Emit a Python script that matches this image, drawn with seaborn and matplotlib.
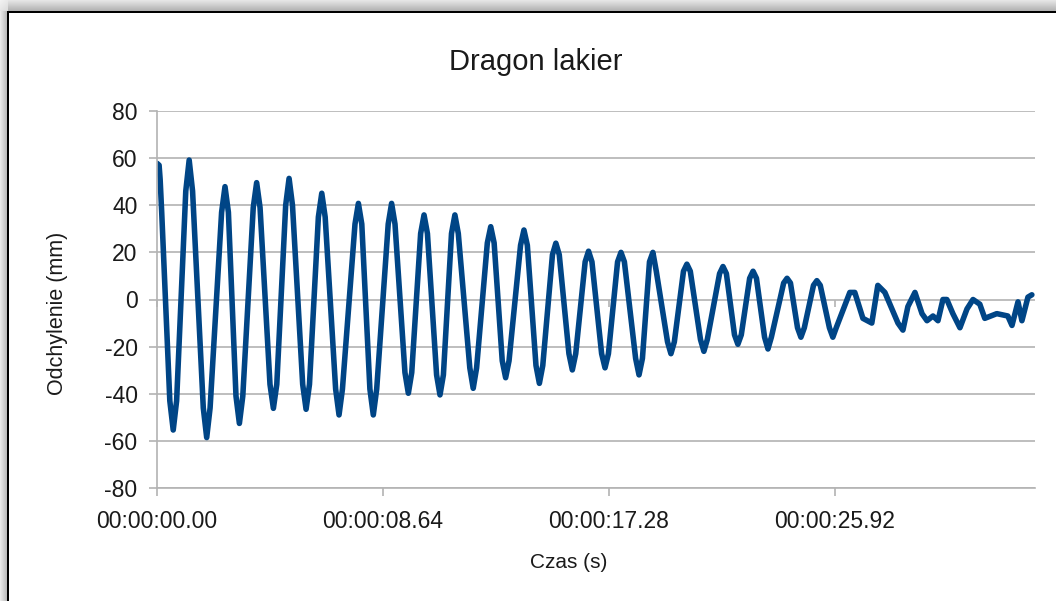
import numpy as np
import pandas as pd
import matplotlib
matplotlib.use("Agg")
import matplotlib.pyplot as plt
import seaborn as sns

# ---- data (time in seconds, deflection in mm) ----
time_s = [0.00, 0.08, 0.12, 0.18, 0.49, 0.62, 0.75,
          1.10, 1.23, 1.36, 1.77, 1.90, 2.03,
          2.47, 2.60, 2.73, 3.02, 3.15, 3.28,
          3.68, 3.81, 3.94, 4.32, 4.45, 4.58,
          4.92, 5.05, 5.18, 5.57, 5.70, 5.83,
          6.17, 6.30, 6.43, 6.83, 6.96, 7.09,
          7.57, 7.70, 7.83, 8.14, 8.27, 8.40,
          8.84, 8.97, 9.10, 9.48, 9.61, 9.74,
          10.08, 10.21, 10.34, 10.69, 10.82, 10.95,
          11.26, 11.39, 11.52, 11.96, 12.09, 12.22,
          12.63, 12.76, 12.89, 13.20, 13.33, 13.46,
          13.90, 14.03, 14.16, 14.49, 14.62, 14.75,
          15.12, 15.25, 15.38, 15.75, 15.88, 16.01,
          16.37, 16.50, 16.63, 17.00, 17.13, 17.26,
          17.61, 17.74, 17.87, 18.30, 18.43, 18.56,
          18.83, 18.96, 19.09, 19.52, 19.65, 19.78,
          20.13, 20.26, 20.39, 20.78, 20.91, 21.04,
          21.51, 21.64, 21.77, 22.08, 22.21, 22.34,
          22.66, 22.79, 22.92, 23.23, 23.36, 23.49,
          23.96, 24.09, 24.22, 24.49, 24.62, 24.75,
          25.10, 25.23, 25.36, 25.71, 25.84, 25.97,
          26.49, 26.68, 26.99, 27.33, 27.56, 27.83, 28.10, 28.33, 28.52, 28.71,
          28.98, 29.25, 29.44, 29.67, 29.86, 30.05, 30.20, 30.43, 30.70, 30.97,
          31.20, 31.46, 31.65, 32.11, 32.53, 32.69, 32.92, 33.07, 33.30, 33.45]
deflection_mm = [57.8, 57.0, 51.0, 37.0, -43.0, -55.4, -43.0,
                 46.0, 59.2, 46.0, -46.0, -58.6, -46.0,
                 37.0, 47.9, 37.0, -41.0, -52.6, -41.0,
                 39.0, 49.6, 39.0, -36.0, -46.2, -36.0,
                 40.0, 51.4, 40.0, -36.0, -46.6, -36.0,
                 35.0, 45.1, 35.0, -38.0, -49.0, -38.0,
                 32.0, 40.8, 32.0, -38.0, -49.0, -38.0,
                 32.0, 40.8, 32.0, -31.0, -39.8, -31.0,
                 28.0, 35.9, 28.0, -32.0, -40.5, -32.0,
                 28.0, 35.9, 28.0, -29.0, -37.7, -29.0,
                 24.0, 30.9, 24.0, -26.0, -33.2, -26.0,
                 23.0, 29.5, 23.0, -28.0, -35.6, -28.0,
                 19.0, 23.9, 19.0, -23.0, -29.9, -23.0,
                 16.0, 20.5, 16.0, -23.0, -29.0, -23.0,
                 16.0, 20.0, 16.0, -25.0, -32.0, -25.0,
                 16.0, 20.0, 12.0, -18.0, -23.0, -18.0,
                 12.0, 15.0, 12.0, -17.0, -22.0, -17.0,
                 11.0, 14.0, 11.0, -15.0, -19.0, -15.0,
                 9.0, 12.0, 9.0, -16.0, -21.0, -16.0,
                 7.0, 9.0, 7.0, -12.0, -16.0, -12.0,
                 6.0, 8.0, 6.0, -12.0, -16.0, -12.0,
                 3.0, 3.0, -8.0, -10.0, 6.0, 3.0, -4.0, -10.0, -13.0, -3.0,
                 3.0, -6.0, -9.0, -7.0, -9.0, 0.0, 0.0, -6.0, -12.0, -4.0,
                 0.0, -2.0, -8.0, -6.0, -7.0, -11.0, -1.0, -9.0, 1.0, 2.0]

x_ticks = [0.0, 8.64, 17.28, 25.92]
x_tick_labels = ["00:00:00.00", "00:00:08.64", "00:00:17.28", "00:00:25.92"]
y_ticks = [-80, -60, -40, -20, 0, 20, 40, 60, 80]

title = "Dragon lakier"
x_label = "Czas (s)"
y_label = "Odchylenie (mm)"

df = pd.DataFrame({"t": time_s, "y": deflection_mm})

sns.set_theme(style="white")
plt.rcParams["font.family"] = ["Liberation Sans", "DejaVu Sans"]
plt.rcParams["axes.unicode_minus"] = False

W, H = 1056, 601
fig = plt.figure(figsize=(W / 100, H / 100), dpi=100)
fig.patch.set_facecolor("white")

# window frame with shadow (decoration)
img = np.ones((H, W, 3))
for i in range(8):
    g = 0.92 - 0.03 * i
    img[11:, i, :] = g
for j in range(11):
    g = 0.90 - 0.02 * j
    img[j, 8:, :] = g
for i in range(8):
    for j in range(11):
        img[j, i, :] = min(0.97, 0.95 - 0.005 * (i + j))
img[11:13, 7:, :] = 0.0
img[11:, 7:9, :] = 0.0
fig.figimage(img, xo=0, yo=0, origin="upper", zorder=-1)

L, R, T, B = 157, 1035, 111, 488
ax = fig.add_axes([L / W, 1 - B / H, (R - L) / W, (B - T) / H])
ax.set_facecolor("none")

sns.lineplot(data=df, x="t", y="y", ax=ax, color="#004586", linewidth=4.0,
             estimator=None, sort=False)
for ln in ax.lines:
    ln.set_solid_joinstyle("round")

ax.set_xlim(0, 33.57)
ax.set_ylim(-80, 80)
ax.set_yticks(y_ticks)
ax.set_xticks(x_ticks)
ax.set_xticklabels(x_tick_labels)
ax.set_xlabel("")
ax.set_ylabel("")

grid_c = "#b3b3b3"
ax.yaxis.grid(True, color=grid_c, linewidth=1.2)
ax.xaxis.grid(False)
for s in ["top", "right"]:
    ax.spines[s].set_visible(False)
ax.spines["left"].set_color(grid_c)
ax.spines["left"].set_linewidth(1.2)
ax.spines["bottom"].set_color(grid_c)
ax.spines["bottom"].set_linewidth(1.2)

ax.tick_params(axis="both", which="major", direction="out", length=6, width=1.2,
               color=grid_c, labelsize=16.5, labelcolor="#1a1a1a")
ax.tick_params(axis="y", pad=8, left=True)
ax.tick_params(axis="x", pad=10, bottom=True)

# small ticks on the zero line
sec = ax.secondary_xaxis(0.5)
sec.set_xticks(x_ticks)
sec.xaxis.set_ticks_position("bottom")
sec.tick_params(axis="x", direction="out", length=5, width=1.2, color=grid_c,
                labelbottom=False, labeltop=False)
for s in sec.spines.values():
    s.set_visible(False)

fig.text(536 / W, 1 - 70 / H, title, ha="center", va="baseline", fontsize=21,
         color="#1a1a1a")
fig.text(569 / W, 1 - 562 / H, x_label, ha="center", va="center", fontsize=15,
         color="#1a1a1a")
fig.text(58 / W, 1 - 313 / H, y_label, ha="center", va="center", rotation=90,
         fontsize=15.5, color="#1a1a1a")

fig.savefig("out.png", dpi=100)
